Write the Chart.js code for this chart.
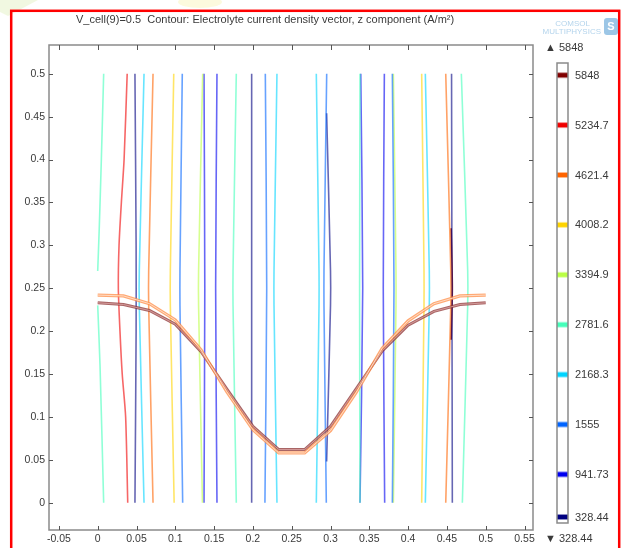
<!DOCTYPE html>
<html>
<head>
<meta charset="utf-8">
<script src="https://cdn.jsdelivr.net/npm/chart.js@4.4.0/dist/chart.umd.min.js"></script>
<style>
    html, body { margin: 0; padding: 0; background: #fff; }
    #wrap { width: 625px; height: 548px; position: relative; }
</style>
</head>
<body>
<div id="wrap"><canvas id="contour-chart"></canvas></div>
<script>
const titleText = 'V_cell(9)=0.5  Contour: Electrolyte current density vector, z component (A/m\u00B2)';

// contour levels (A/m^2), lowest first, and their rainbow colours
const levels = [328.44, 941.73, 1555, 2168.3, 2781.6, 3394.9, 4008.2, 4621.4, 5234.7, 5848];
const levelLabels = ['328.44', '941.73', '1555', '2168.3', '2781.6', '3394.9', '4008.2', '4621.4', '5234.7', '5848'];
const levelColors = ['#000080', '#0000f0', '#0064ff', '#00d4ff', '#45ffba', '#baff45', '#ffd400', '#ff6400', '#f00000', '#800000'];
const rangeMax = '5848';
const rangeMin = '328.44';

const xTicks = [-0.05, 0, 0.05, 0.1, 0.15, 0.2, 0.25, 0.3, 0.35, 0.4, 0.45, 0.5, 0.55];
const yTicks = [0, 0.05, 0.1, 0.15, 0.2, 0.25, 0.3, 0.35, 0.4, 0.45, 0.5];

// the two trough shaped boundary curves
const profileX = [0, 0.0333, 0.0667, 0.1, 0.1333, 0.1667, 0.2, 0.2333, 0.2667, 0.3, 0.3333, 0.3667, 0.4, 0.4333, 0.4667, 0.5];
const orangeProfileY = [0.242, 0.241, 0.232, 0.213, 0.178, 0.129, 0.085, 0.058, 0.058, 0.084, 0.129, 0.18, 0.212, 0.232, 0.241, 0.242];
const darkProfileY = [0.233, 0.231, 0.224, 0.208, 0.176, 0.132, 0.089, 0.062, 0.062, 0.089, 0.133, 0.177, 0.207, 0.223, 0.231, 0.233];

// contour lines: level index + [x, y] points, top to bottom
const contourLines = [
    { level: 4, points: [[0.0077, 0.5], [0.0047, 0.4], [0.002, 0.32], [0, 0.27]] },
    { level: 4, points: [[0, 0.23], [0.003, 0.16], [0.0077, 0]] },
    { level: 8, points: [[0.038, 0.5], [0.034, 0.4], [0.0305, 0.35], [0.0275, 0.3], [0.0266, 0.25], [0.0287, 0.2], [0.0316, 0.15], [0.036, 0.1], [0.0387, 0]] },
    { level: 0, points: [[0.048, 0.5], [0.0495, 0.3], [0.0495, 0.2], [0.048, 0]] },
    { level: 3, points: [[0.0597, 0.5], [0.0536, 0.27], [0.0536, 0.23], [0.0597, 0]] },
    { level: 7, points: [[0.0713, 0.5], [0.0657, 0.27], [0.0657, 0.23], [0.0713, 0]] },
    { level: 6, points: [[0.098, 0.5], [0.0936, 0.27], [0.0936, 0.23], [0.0985, 0]] },
    { level: 2, points: [[0.109, 0.5], [0.106, 0.27], [0.106, 0.23], [0.1095, 0]] },
    { level: 5, points: [[0.1353, 0.5], [0.130, 0.27], [0.130, 0.23], [0.135, 0]] },
    { level: 1, points: [[0.137, 0.5], [0.138, 0.25], [0.137, 0]] },
    { level: 1, points: [[0.1537, 0.5], [0.152, 0.25], [0.1537, 0]] },
    { level: 4, points: [[0.1786, 0.5], [0.1744, 0.27], [0.1744, 0.23], [0.1786, 0]] },
    { level: 0, points: [[0.1984, 0.5], [0.1984, 0]] },
    { level: 2, points: [[0.216, 0.5], [0.2178, 0.25], [0.2155, 0]] },
    { level: 3, points: [[0.231, 0.5], [0.2272, 0.27], [0.2272, 0.23], [0.231, 0]] },
    { level: 3, points: [[0.2817, 0.5], [0.2852, 0.27], [0.2852, 0.23], [0.2817, 0]] },
    { level: 2, points: [[0.2951, 0.5], [0.2916, 0.27], [0.2916, 0.23], [0.2946, 0]] },
    { level: 0, points: [[0.295, 0.454], [0.300, 0.27], [0.300, 0.23], [0.295, 0.048]] },
    { level: 4, points: [[0.338, 0.5], [0.3375, 0.25], [0.338, 0]] },
    { level: 1, points: [[0.339, 0.5], [0.3415, 0.25], [0.338, 0]] },
    { level: 1, points: [[0.3694, 0.5], [0.368, 0.25], [0.3698, 0]] },
    { level: 2, points: [[0.3797, 0.5], [0.3818, 0.25], [0.3797, 0]] },
    { level: 5, points: [[0.381, 0.5], [0.3844, 0.27], [0.3844, 0.23], [0.381, 0]] },
    { level: 6, points: [[0.4175, 0.5], [0.4205, 0.27], [0.4205, 0.23], [0.4175, 0]] },
    { level: 3, points: [[0.4222, 0.5], [0.4273, 0.27], [0.4273, 0.23], [0.4222, 0]] },
    { level: 7, points: [[0.4485, 0.5], [0.455, 0.27], [0.455, 0.23], [0.4485, 0]] },
    { level: 0, points: [[0.456, 0.5], [0.4565, 0.25], [0.457, 0]] },
    { level: 9, points: [[0.4555, 0.32], [0.457, 0.25], [0.4555, 0.19]] },
    { level: 4, points: [[0.4686, 0.5], [0.4768, 0.27], [0.4768, 0.23], [0.4699, 0]] }
];

function withAlpha(hex, a) {
    const n = parseInt(hex.slice(1), 16);
    return `rgba(${(n >> 16) & 255}, ${(n >> 8) & 255}, ${n & 255}, ${a})`;
}

const textColor = '#3a3a3a';
const frameColor = '#8a8a8a';

const profileData = ys => profileX.map((x, i) => ({ x: x, y: ys[i] }));

const datasets = [
    { data: profileData(orangeProfileY), borderColor: 'rgba(255, 225, 205, 0.9)', borderWidth: 1 },
    { data: profileData(darkProfileY), borderColor: 'rgba(215, 160, 160, 0.9)', borderWidth: 1 },
    { data: profileData(orangeProfileY), borderColor: 'rgba(255, 140, 70, 0.75)', borderWidth: 3.2 },
    { data: profileData(darkProfileY), borderColor: 'rgba(140, 50, 50, 0.75)', borderWidth: 3 },
];
contourLines.forEach(line => {
    datasets.push({
        data: line.points.map(p => ({ x: p[0], y: p[1] })),
        borderColor: withAlpha(levelColors[line.level], line.level === 9 ? 0.85 : 0.6),
        borderWidth: 1.6,
        tension: 0.25
    });
});
datasets.forEach(ds => {
    ds.showLine = true;
    ds.pointRadius = 0;
    ds.pointHoverRadius = 0;
});

// frame with inward ticks, title, colour legend and logo
const decorations = {
    id: 'decorations',
    afterDraw(chart) {
        const ctx = chart.ctx;
        const area = chart.chartArea;
        const xs = chart.scales.x, ys = chart.scales.y;
        ctx.save();

        // frame
        ctx.strokeStyle = frameColor;
        ctx.lineWidth = 1.5;
        ctx.strokeRect(area.left, area.top, area.right - area.left, area.bottom - area.top);
        ctx.lineWidth = 1;
        ctx.strokeStyle = '#555';
        ctx.beginPath();
        xTicks.forEach(v => {
            const px = Math.round(xs.getPixelForValue(v)) + 0.5;
            ctx.moveTo(px, area.top); ctx.lineTo(px, area.top + 5);
            ctx.moveTo(px, area.bottom); ctx.lineTo(px, area.bottom - 4);
        });
        yTicks.forEach(v => {
            const py = Math.round(ys.getPixelForValue(v)) + 0.5;
            ctx.moveTo(area.left, py); ctx.lineTo(area.left + 4, py);
            ctx.moveTo(area.right, py); ctx.lineTo(area.right - 4, py);
        });
        ctx.stroke();

        // title
        ctx.fillStyle = textColor;
        ctx.font = '11px "Liberation Sans", Arial, sans-serif';
        ctx.textAlign = 'left';
        ctx.textBaseline = 'middle';
        ctx.fillText(titleText, 76, 20);

        // colour legend
        const barL = 557, barW = 11, barT = 63, barB = 523;
        const step = 49.9 / (levels[9] - levels[8]);
        const cbY = v => Math.min(75.2 + (levels[9] - v) * step, barB - 6);
        ctx.fillStyle = '#fff';
        ctx.fillRect(barL, barT, barW, barB - barT);
        levels.forEach((v, i) => {
            const y = cbY(v);
            ctx.fillStyle = withAlpha(levelColors[i], 0.45);
            ctx.fillRect(barL, y - 3, barW, 6);
            ctx.fillStyle = levelColors[i];
            ctx.fillRect(barL, y - 2, barW, 4);
            ctx.fillStyle = textColor;
            ctx.font = '11px "Liberation Sans", Arial, sans-serif';
            ctx.fillText(levelLabels[i], 575, y + 0.5);
        });
        ctx.strokeStyle = frameColor;
        ctx.lineWidth = 1.5;
        ctx.strokeRect(barL, barT, barW, barB - barT);
        ctx.fillStyle = textColor;
        ctx.fillText('\u25B2 ' + rangeMax, 545, 48);
        ctx.fillText('\u25BC ' + rangeMin, 545, 539);

        // logo
        ctx.fillStyle = '#b4d4ec';
        ctx.font = '8px "Liberation Sans", Arial, sans-serif';
        ctx.textAlign = 'right';
        ctx.fillText('COMSOL', 590, 24);
        ctx.fillText('MULTIPHYSICS', 601, 32);
        ctx.fillStyle = '#9cc6e6';
        ctx.beginPath();
        ctx.roundRect(604, 18, 14, 17, 3);
        ctx.fill();
        ctx.fillStyle = '#fff';
        ctx.font = 'bold 11px "Liberation Sans", Arial, sans-serif';
        ctx.textAlign = 'center';
        ctx.fillText('S', 611, 27);

        // faint watermark smudges and red border
        ctx.fillStyle = 'rgba(215, 235, 170, 0.35)';
        ctx.beginPath();
        ctx.moveTo(0, 0); ctx.lineTo(38, 0); ctx.lineTo(8, 16); ctx.lineTo(0, 12);
        ctx.fill();
        ctx.fillStyle = 'rgba(245, 240, 160, 0.35)';
        ctx.beginPath();
        ctx.ellipse(200, 2, 22, 6, 0, 0, Math.PI * 2);
        ctx.fill();
        ctx.strokeStyle = '#ff0000';
        ctx.lineWidth = 2.5;
        ctx.strokeRect(11.2, 10.8, 608, 560);
        ctx.restore();
    }
};

new Chart(document.getElementById('contour-chart'), {
    type: 'scatter',
    data: { datasets: datasets },
    options: {
        responsive: true,
        maintainAspectRatio: false,
        animation: false,
        events: [],
        layout: { padding: { top: 45, right: 92, bottom: 0, left: 0 } },
        plugins: {
            legend: { display: false },
            tooltip: { enabled: false }
        },
        scales: {
            x: {
                type: 'linear',
                min: -0.06276,
                max: 0.56095,
                grid: { display: false, drawTicks: false },
                border: { display: false },
                afterBuildTicks: scale => { scale.ticks = xTicks.map(v => ({ value: v })); },
                afterFit: scale => { scale.height = 18; scale.paddingLeft = 0; scale.paddingRight = 0; },
                ticks: {
                    color: textColor,
                    padding: 3,
                    maxRotation: 0,
                    autoSkip: false,
                    font: { family: '"Liberation Sans", Arial, sans-serif', size: 10.5 },
                    callback: v => String(Math.round(v * 100) / 100)
                }
            },
            y: {
                type: 'linear',
                min: -0.0318,
                max: 0.5335,
                grid: { display: false, drawTicks: false },
                border: { display: false },
                afterBuildTicks: scale => { scale.ticks = yTicks.map(v => ({ value: v })); },
                afterFit: scale => { scale.width = 49; scale.paddingTop = 0; scale.paddingBottom = 0; },
                ticks: {
                    color: textColor,
                    padding: 4,
                    autoSkip: false,
                    font: { family: '"Liberation Sans", Arial, sans-serif', size: 10.5 },
                    callback: v => String(Math.round(v * 100) / 100)
                }
            }
        }
    },
    plugins: [decorations]
});
</script>
</body>
</html>
